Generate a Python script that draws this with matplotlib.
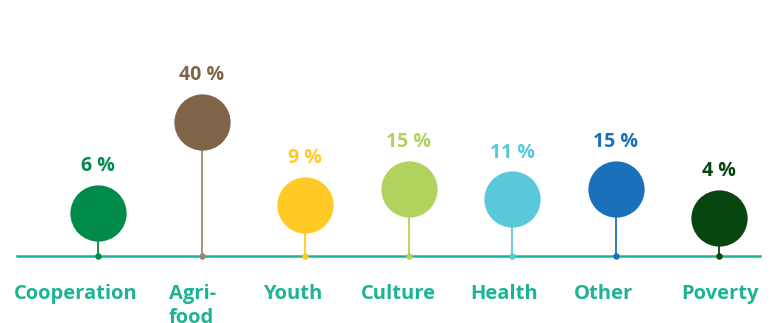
import matplotlib
matplotlib.use("Agg")
import matplotlib.pyplot as plt

categories = ["Cooperation", "Agri-\nfood", "Youth", "Culture", "Health", "Other", "Poverty"]
shares = [6, 40, 9, 15, 11, 15, 4]
colours = ["#008B4A", "#7F6547", "#FFCA25", "#B1D35D", "#5BC7DA", "#1B71B9", "#07460E"]
stem_colours = ["#008B4A", "#9A8873", "#FFCA25", "#B1D35D", "#5BC7DA", "#1B71B9", "#07460E"]

TEAL = "#1DB394"
LIFT = 10.2  # circles float above their stems
# horizontal nudge (points) of each category name relative to its stem
NAME_NUDGE = [-16, -6.5, -9, -7, -6, -8.5, 0.5]
LINE_STEP = 17.3  # points between lines of a wrapped name

plt.rcParams["font.family"] = ["Open Sans", "DejaVu Sans"]

fig = plt.figure(figsize=(7.71, 3.23), dpi=100)
ax = fig.add_axes([0, 0, 1, 1])
ax.set_xlim(-0.947, 6.502)
ax.set_ylim(-25.1, 95.9)
ax.axis("off")

ax.plot([-0.78, 6.4], [0, 0], color=TEAL, lw=1.8, zorder=1)

for i, (cat, val, c, sc) in enumerate(zip(categories, shares, colours, stem_colours)):
    top = val + LIFT
    ax.plot([i, i], [0, top], color=sc, lw=1.3, zorder=2)
    ax.scatter([i], [0], s=22, color=sc, zorder=3, linewidths=0)
    ax.scatter([i], [top], s=1640, color=c, zorder=4, linewidths=0)
    ax.annotate(f"{val} %", (i, top), xytext=(0, 30), textcoords="offset points",
                ha="center", va="baseline", fontsize=14, fontweight="bold", color=c)
    # baseline alignment follows the last line, so push wrapped names down
    extra = LINE_STEP * cat.count("\n")
    ax.annotate(cat, (i, 0), xytext=(NAME_NUDGE[i], -31 - extra),
                textcoords="offset points",
                ha="center", va="baseline", multialignment="left",
                fontsize=14.5, fontweight="bold", color=TEAL,
                linespacing=1.28)

fig.savefig("out.png", dpi=100)
